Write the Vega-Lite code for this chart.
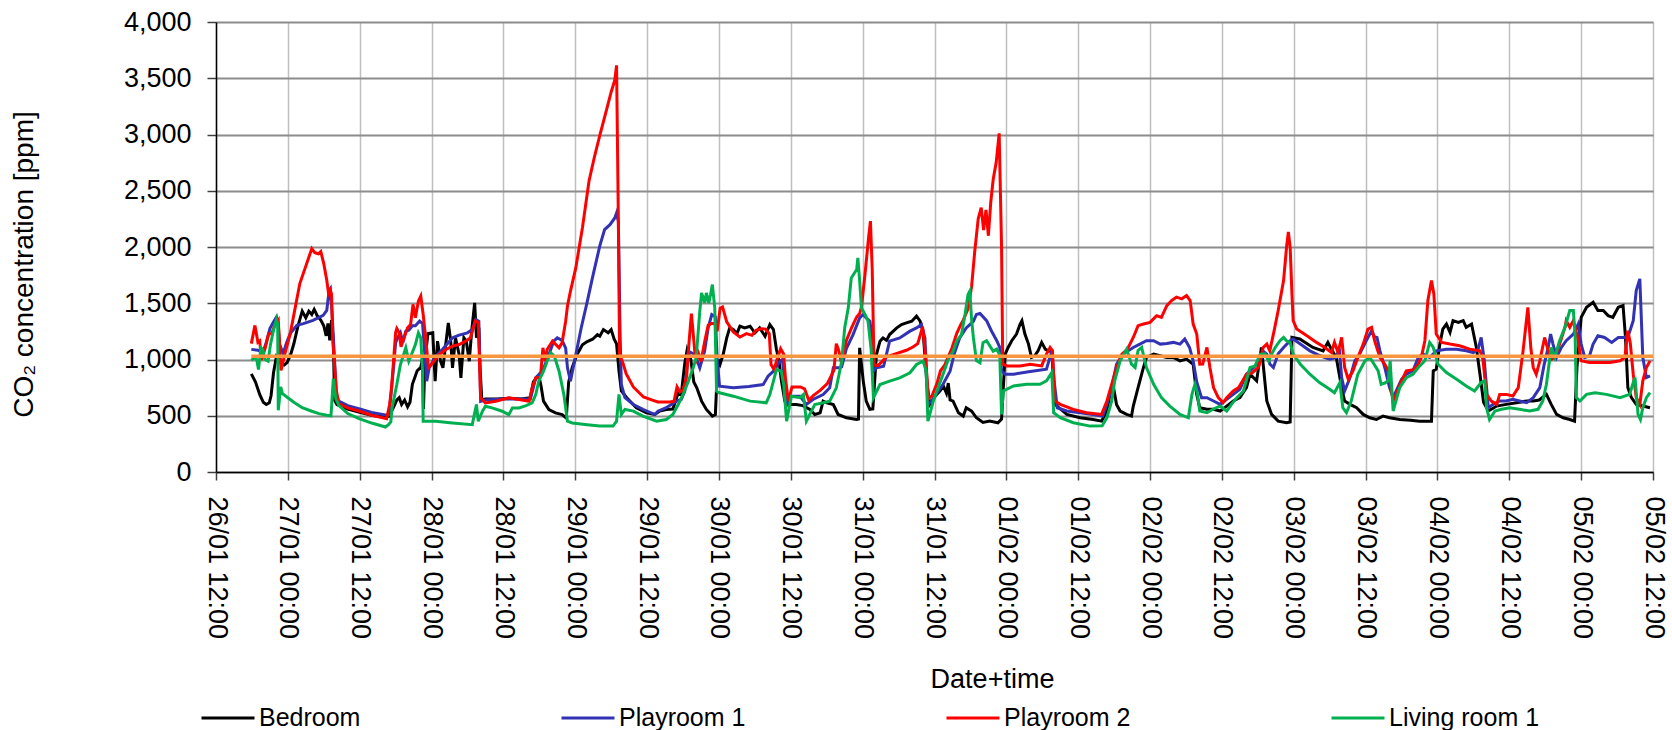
{
"$schema":"https://vega.github.io/schema/vega-lite/v6.json",
"width":1437,"height":450,
"autosize":{"type":"none"},
"padding":{"left":216,"top":22,"right":19,"bottom":258},
"background":"white",
"config":{"font":"Liberation Sans","view":{"stroke":null},"axis":{"labelColor":"#000","titleColor":"#000","titleFontWeight":"normal"}},
"datasets":{"limit":[{"h":5.9,"v":1030},{"h":240,"v":1030}],
"co2":[
{"s":"Bedroom","h":5.9,"v":872},{"s":"Bedroom","h":6.6,"v":800},{"s":"Bedroom","h":7.3,"v":690},{"s":"Bedroom","h":7.9,"v":620},{"s":"Bedroom","h":8.4,"v":600},{"s":"Bedroom","h":8.9,"v":615},{"s":"Bedroom","h":9.2,"v":680},{"s":"Bedroom","h":9.6,"v":880},{"s":"Bedroom","h":10.1,"v":1030},{"s":"Bedroom","h":10.5,"v":1010},{"s":"Bedroom","h":10.9,"v":960},{"s":"Bedroom","h":11.4,"v":950},{"s":"Bedroom","h":11.9,"v":975},{"s":"Bedroom","h":12.5,"v":1050},{"s":"Bedroom","h":13.0,"v":1140},{"s":"Bedroom","h":13.7,"v":1300},{"s":"Bedroom","h":14.4,"v":1430},{"s":"Bedroom","h":15.0,"v":1370},{"s":"Bedroom","h":15.5,"v":1430},{"s":"Bedroom","h":16.0,"v":1400},{"s":"Bedroom","h":16.4,"v":1445},{"s":"Bedroom","h":16.9,"v":1390},{"s":"Bedroom","h":17.5,"v":1350},{"s":"Bedroom","h":18.0,"v":1300},{"s":"Bedroom","h":18.4,"v":1210},{"s":"Bedroom","h":18.7,"v":1320},{"s":"Bedroom","h":19.0,"v":1170},{"s":"Bedroom","h":19.3,"v":1350},{"s":"Bedroom","h":19.6,"v":1160},{"s":"Bedroom","h":19.8,"v":640},{"s":"Bedroom","h":20.2,"v":600},{"s":"Bedroom","h":22,"v":560},{"s":"Bedroom","h":24,"v":530},{"s":"Bedroom","h":26,"v":505},{"s":"Bedroom","h":28,"v":490},{"s":"Bedroom","h":28.9,"v":495},{"s":"Bedroom","h":29.5,"v":560},{"s":"Bedroom","h":30.2,"v":640},{"s":"Bedroom","h":30.6,"v":660},{"s":"Bedroom","h":31.0,"v":600},{"s":"Bedroom","h":31.5,"v":640},{"s":"Bedroom","h":32.0,"v":580},{"s":"Bedroom","h":32.4,"v":620},{"s":"Bedroom","h":32.8,"v":780},{"s":"Bedroom","h":33.6,"v":900},{"s":"Bedroom","h":34.2,"v":930},{"s":"Bedroom","h":34.5,"v":1010},{"s":"Bedroom","h":34.65,"v":560},{"s":"Bedroom","h":34.9,"v":1000},{"s":"Bedroom","h":35.4,"v":1230},{"s":"Bedroom","h":36.2,"v":1237},{"s":"Bedroom","h":36.6,"v":807},{"s":"Bedroom","h":37.0,"v":1163},{"s":"Bedroom","h":37.5,"v":985},{"s":"Bedroom","h":37.9,"v":926},{"s":"Bedroom","h":38.3,"v":1104},{"s":"Bedroom","h":38.8,"v":1326},{"s":"Bedroom","h":39.2,"v":1163},{"s":"Bedroom","h":39.5,"v":926},{"s":"Bedroom","h":40.0,"v":1193},{"s":"Bedroom","h":40.6,"v":1045},{"s":"Bedroom","h":40.9,"v":837},{"s":"Bedroom","h":41.4,"v":1193},{"s":"Bedroom","h":41.8,"v":1163},{"s":"Bedroom","h":42.3,"v":985},{"s":"Bedroom","h":42.7,"v":1252},{"s":"Bedroom","h":43.2,"v":1504},{"s":"Bedroom","h":43.5,"v":1193},{"s":"Bedroom","h":43.9,"v":1282},{"s":"Bedroom","h":44.1,"v":926},{"s":"Bedroom","h":44.4,"v":640},{"s":"Bedroom","h":45,"v":650},{"s":"Bedroom","h":47,"v":650},{"s":"Bedroom","h":49,"v":655},{"s":"Bedroom","h":51,"v":650},{"s":"Bedroom","h":52.5,"v":660},{"s":"Bedroom","h":53.0,"v":800},{"s":"Bedroom","h":53.9,"v":860},{"s":"Bedroom","h":54.3,"v":760},{"s":"Bedroom","h":54.7,"v":630},{"s":"Bedroom","h":55.6,"v":555},{"s":"Bedroom","h":56.7,"v":525},{"s":"Bedroom","h":57.8,"v":510},{"s":"Bedroom","h":58.5,"v":480},{"s":"Bedroom","h":58.9,"v":800},{"s":"Bedroom","h":59.5,"v":930},{"s":"Bedroom","h":60.3,"v":1045},{"s":"Bedroom","h":61.2,"v":1130},{"s":"Bedroom","h":62.0,"v":1160},{"s":"Bedroom","h":62.9,"v":1180},{"s":"Bedroom","h":63.7,"v":1220},{"s":"Bedroom","h":64.1,"v":1207},{"s":"Bedroom","h":64.7,"v":1266},{"s":"Bedroom","h":65.5,"v":1237},{"s":"Bedroom","h":66.0,"v":1266},{"s":"Bedroom","h":66.5,"v":1180},{"s":"Bedroom","h":66.9,"v":1140},{"s":"Bedroom","h":67.3,"v":900},{"s":"Bedroom","h":67.7,"v":720},{"s":"Bedroom","h":68.6,"v":660},{"s":"Bedroom","h":70.2,"v":570},{"s":"Bedroom","h":71.9,"v":526},{"s":"Bedroom","h":73.3,"v":511},{"s":"Bedroom","h":74.1,"v":541},{"s":"Bedroom","h":75.2,"v":556},{"s":"Bedroom","h":76.3,"v":560},{"s":"Bedroom","h":77.2,"v":704},{"s":"Bedroom","h":77.7,"v":690},{"s":"Bedroom","h":78.3,"v":970},{"s":"Bedroom","h":78.7,"v":1089},{"s":"Bedroom","h":79.3,"v":1000},{"s":"Bedroom","h":79.8,"v":800},{"s":"Bedroom","h":80.3,"v":748},{"s":"Bedroom","h":81.1,"v":630},{"s":"Bedroom","h":81.9,"v":556},{"s":"Bedroom","h":82.9,"v":497},{"s":"Bedroom","h":83.4,"v":510},{"s":"Bedroom","h":83.6,"v":748},{"s":"Bedroom","h":83.9,"v":1000},{"s":"Bedroom","h":84.2,"v":960},{"s":"Bedroom","h":84.7,"v":1044},{"s":"Bedroom","h":85.3,"v":1192},{"s":"Bedroom","h":85.8,"v":1281},{"s":"Bedroom","h":86.4,"v":1266},{"s":"Bedroom","h":87.0,"v":1230},{"s":"Bedroom","h":87.5,"v":1296},{"s":"Bedroom","h":88.3,"v":1281},{"s":"Bedroom","h":89.2,"v":1296},{"s":"Bedroom","h":90.0,"v":1237},{"s":"Bedroom","h":90.8,"v":1281},{"s":"Bedroom","h":91.7,"v":1207},{"s":"Bedroom","h":92.5,"v":1311},{"s":"Bedroom","h":93.1,"v":1266},{"s":"Bedroom","h":93.6,"v":1089},{"s":"Bedroom","h":94.0,"v":1000},{"s":"Bedroom","h":94.4,"v":822},{"s":"Bedroom","h":95.0,"v":630},{"s":"Bedroom","h":95.8,"v":600},{"s":"Bedroom","h":96.9,"v":600},{"s":"Bedroom","h":98.0,"v":590},{"s":"Bedroom","h":99.2,"v":556},{"s":"Bedroom","h":100.0,"v":511},{"s":"Bedroom","h":100.9,"v":526},{"s":"Bedroom","h":101.4,"v":630},{"s":"Bedroom","h":102.0,"v":615},{"s":"Bedroom","h":103.1,"v":600},{"s":"Bedroom","h":103.9,"v":511},{"s":"Bedroom","h":105.3,"v":482},{"s":"Bedroom","h":107.0,"v":467},{"s":"Bedroom","h":107.3,"v":470},{"s":"Bedroom","h":107.5,"v":1104},{"s":"Bedroom","h":108.1,"v":808},{"s":"Bedroom","h":108.6,"v":630},{"s":"Bedroom","h":109.2,"v":556},{"s":"Bedroom","h":109.7,"v":560},{"s":"Bedroom","h":110.3,"v":1044},{"s":"Bedroom","h":110.9,"v":1163},{"s":"Bedroom","h":111.4,"v":1192},{"s":"Bedroom","h":112.0,"v":1170},{"s":"Bedroom","h":112.5,"v":1222},{"s":"Bedroom","h":113.7,"v":1281},{"s":"Bedroom","h":114.5,"v":1311},{"s":"Bedroom","h":115.3,"v":1326},{"s":"Bedroom","h":116.2,"v":1340},{"s":"Bedroom","h":117.0,"v":1385},{"s":"Bedroom","h":117.6,"v":1340},{"s":"Bedroom","h":118.1,"v":1250},{"s":"Bedroom","h":118.7,"v":808},{"s":"Bedroom","h":119.2,"v":600},{"s":"Bedroom","h":120.1,"v":674},{"s":"Bedroom","h":120.9,"v":719},{"s":"Bedroom","h":121.5,"v":763},{"s":"Bedroom","h":122.0,"v":700},{"s":"Bedroom","h":122.3,"v":790},{"s":"Bedroom","h":122.6,"v":640},{"s":"Bedroom","h":123.1,"v":630},{"s":"Bedroom","h":124.0,"v":526},{"s":"Bedroom","h":124.8,"v":497},{"s":"Bedroom","h":125.3,"v":571},{"s":"Bedroom","h":126.2,"v":541},{"s":"Bedroom","h":127.0,"v":482},{"s":"Bedroom","h":128.1,"v":440},{"s":"Bedroom","h":129.2,"v":452},{"s":"Bedroom","h":130.6,"v":437},{"s":"Bedroom","h":131.2,"v":470},{"s":"Bedroom","h":131.8,"v":1048},{"s":"Bedroom","h":132.3,"v":1107},{"s":"Bedroom","h":132.9,"v":1167},{"s":"Bedroom","h":133.7,"v":1226},{"s":"Bedroom","h":134.3,"v":1315},{"s":"Bedroom","h":134.6,"v":1345},{"s":"Bedroom","h":135.1,"v":1226},{"s":"Bedroom","h":135.7,"v":1137},{"s":"Bedroom","h":136.2,"v":1018},{"s":"Bedroom","h":136.7,"v":1030},{"s":"Bedroom","h":137.3,"v":1077},{"s":"Bedroom","h":137.9,"v":1152},{"s":"Bedroom","h":138.5,"v":1092},{"s":"Bedroom","h":139.0,"v":1077},{"s":"Bedroom","h":139.6,"v":1070},{"s":"Bedroom","h":140.1,"v":601},{"s":"Bedroom","h":142.1,"v":512},{"s":"Bedroom","h":144.3,"v":482},{"s":"Bedroom","h":146.5,"v":467},{"s":"Bedroom","h":147.9,"v":452},{"s":"Bedroom","h":148.8,"v":542},{"s":"Bedroom","h":149.3,"v":690},{"s":"Bedroom","h":149.9,"v":750},{"s":"Bedroom","h":150.4,"v":601},{"s":"Bedroom","h":151.0,"v":542},{"s":"Bedroom","h":152.1,"v":512},{"s":"Bedroom","h":152.9,"v":497},{"s":"Bedroom","h":153.2,"v":586},{"s":"Bedroom","h":154.0,"v":750},{"s":"Bedroom","h":154.9,"v":929},{"s":"Bedroom","h":155.4,"v":1018},{"s":"Bedroom","h":156.6,"v":1048},{"s":"Bedroom","h":157.7,"v":1033},{"s":"Bedroom","h":158.8,"v":1018},{"s":"Bedroom","h":159.9,"v":1018},{"s":"Bedroom","h":161.0,"v":988},{"s":"Bedroom","h":162.1,"v":1003},{"s":"Bedroom","h":163.2,"v":958},{"s":"Bedroom","h":163.8,"v":690},{"s":"Bedroom","h":164.3,"v":571},{"s":"Bedroom","h":165.5,"v":557},{"s":"Bedroom","h":166.6,"v":557},{"s":"Bedroom","h":167.7,"v":542},{"s":"Bedroom","h":168.8,"v":586},{"s":"Bedroom","h":169.9,"v":631},{"s":"Bedroom","h":171.0,"v":661},{"s":"Bedroom","h":172.1,"v":750},{"s":"Bedroom","h":172.7,"v":869},{"s":"Bedroom","h":173.8,"v":810},{"s":"Bedroom","h":174.6,"v":1107},{"s":"Bedroom","h":175.0,"v":900},{"s":"Bedroom","h":175.5,"v":631},{"s":"Bedroom","h":176.3,"v":512},{"s":"Bedroom","h":177.4,"v":452},{"s":"Bedroom","h":178.8,"v":438},{"s":"Bedroom","h":179.4,"v":445},{"s":"Bedroom","h":179.7,"v":1196},{"s":"Bedroom","h":181.0,"v":1182},{"s":"Bedroom","h":183.2,"v":1107},{"s":"Bedroom","h":184.9,"v":1077},{"s":"Bedroom","h":185.7,"v":1152},{"s":"Bedroom","h":186.3,"v":1090},{"s":"Bedroom","h":187.1,"v":1018},{"s":"Bedroom","h":188.0,"v":750},{"s":"Bedroom","h":188.5,"v":631},{"s":"Bedroom","h":189.4,"v":601},{"s":"Bedroom","h":190.5,"v":571},{"s":"Bedroom","h":191.6,"v":512},{"s":"Bedroom","h":192.7,"v":482},{"s":"Bedroom","h":193.8,"v":467},{"s":"Bedroom","h":194.9,"v":497},{"s":"Bedroom","h":196.0,"v":482},{"s":"Bedroom","h":197.7,"v":467},{"s":"Bedroom","h":199.5,"v":460},{"s":"Bedroom","h":201.0,"v":452},{"s":"Bedroom","h":203.0,"v":452},{"s":"Bedroom","h":203.3,"v":899},{"s":"Bedroom","h":203.8,"v":914},{"s":"Bedroom","h":204.4,"v":1137},{"s":"Bedroom","h":204.9,"v":1271},{"s":"Bedroom","h":205.5,"v":1315},{"s":"Bedroom","h":206.1,"v":1241},{"s":"Bedroom","h":206.6,"v":1345},{"s":"Bedroom","h":207.5,"v":1330},{"s":"Bedroom","h":208.3,"v":1345},{"s":"Bedroom","h":208.8,"v":1286},{"s":"Bedroom","h":209.7,"v":1315},{"s":"Bedroom","h":210.5,"v":1107},{"s":"Bedroom","h":211.1,"v":869},{"s":"Bedroom","h":211.7,"v":620},{"s":"Bedroom","h":212.5,"v":542},{"s":"Bedroom","h":213.9,"v":586},{"s":"Bedroom","h":215.5,"v":601},{"s":"Bedroom","h":217.2,"v":616},{"s":"Bedroom","h":218.9,"v":631},{"s":"Bedroom","h":220.0,"v":631},{"s":"Bedroom","h":221.0,"v":640},{"s":"Bedroom","h":222.2,"v":690},{"s":"Bedroom","h":223.0,"v":601},{"s":"Bedroom","h":223.9,"v":512},{"s":"Bedroom","h":225.0,"v":482},{"s":"Bedroom","h":226.1,"v":467},{"s":"Bedroom","h":226.9,"v":452},{"s":"Bedroom","h":227.3,"v":929},{"s":"Bedroom","h":228.0,"v":1375},{"s":"Bedroom","h":228.9,"v":1464},{"s":"Bedroom","h":230.0,"v":1509},{"s":"Bedroom","h":230.8,"v":1435},{"s":"Bedroom","h":231.7,"v":1435},{"s":"Bedroom","h":232.5,"v":1390},{"s":"Bedroom","h":233.3,"v":1375},{"s":"Bedroom","h":234.2,"v":1464},{"s":"Bedroom","h":235.0,"v":1479},{"s":"Bedroom","h":235.4,"v":1200},{"s":"Bedroom","h":235.8,"v":750},{"s":"Bedroom","h":236.4,"v":661},{"s":"Bedroom","h":237.2,"v":601},{"s":"Bedroom","h":238.3,"v":586},{"s":"Bedroom","h":239.5,"v":571},
{"s":"Playroom 1","h":5.9,"v":1090},{"s":"Playroom 1","h":7.0,"v":1082},{"s":"Playroom 1","h":7.8,"v":1060},{"s":"Playroom 1","h":8.4,"v":1150},{"s":"Playroom 1","h":9.0,"v":1275},{"s":"Playroom 1","h":9.6,"v":1334},{"s":"Playroom 1","h":10.1,"v":1378},{"s":"Playroom 1","h":10.4,"v":1300},{"s":"Playroom 1","h":10.6,"v":1141},{"s":"Playroom 1","h":11.2,"v":1052},{"s":"Playroom 1","h":11.8,"v":1150},{"s":"Playroom 1","h":12.4,"v":1230},{"s":"Playroom 1","h":13.5,"v":1304},{"s":"Playroom 1","h":14.6,"v":1319},{"s":"Playroom 1","h":16.2,"v":1348},{"s":"Playroom 1","h":17.9,"v":1393},{"s":"Playroom 1","h":18.5,"v":1437},{"s":"Playroom 1","h":18.9,"v":1615},{"s":"Playroom 1","h":19.1,"v":1630},{"s":"Playroom 1","h":19.4,"v":1400},{"s":"Playroom 1","h":19.7,"v":1100},{"s":"Playroom 1","h":20.1,"v":683},{"s":"Playroom 1","h":20.5,"v":630},{"s":"Playroom 1","h":22,"v":590},{"s":"Playroom 1","h":24,"v":560},{"s":"Playroom 1","h":26,"v":530},{"s":"Playroom 1","h":28.5,"v":505},{"s":"Playroom 1","h":28.9,"v":510},{"s":"Playroom 1","h":29.6,"v":900},{"s":"Playroom 1","h":30.0,"v":1150},{"s":"Playroom 1","h":30.4,"v":1200},{"s":"Playroom 1","h":30.8,"v":1237},{"s":"Playroom 1","h":31.2,"v":1150},{"s":"Playroom 1","h":31.7,"v":1252},{"s":"Playroom 1","h":32.2,"v":1260},{"s":"Playroom 1","h":32.8,"v":1300},{"s":"Playroom 1","h":33.3,"v":1300},{"s":"Playroom 1","h":34.0,"v":1341},{"s":"Playroom 1","h":34.5,"v":1320},{"s":"Playroom 1","h":34.8,"v":1100},{"s":"Playroom 1","h":35.2,"v":807},{"s":"Playroom 1","h":35.6,"v":926},{"s":"Playroom 1","h":36.7,"v":1030},{"s":"Playroom 1","h":37.8,"v":1089},{"s":"Playroom 1","h":39.5,"v":1193},{"s":"Playroom 1","h":40.6,"v":1217},{"s":"Playroom 1","h":42.0,"v":1237},{"s":"Playroom 1","h":42.8,"v":1267},{"s":"Playroom 1","h":43.4,"v":1356},{"s":"Playroom 1","h":43.9,"v":1340},{"s":"Playroom 1","h":44.2,"v":629},{"s":"Playroom 1","h":45,"v":640},{"s":"Playroom 1","h":48,"v":650},{"s":"Playroom 1","h":50,"v":650},{"s":"Playroom 1","h":52.5,"v":650},{"s":"Playroom 1","h":53.0,"v":750},{"s":"Playroom 1","h":53.4,"v":837},{"s":"Playroom 1","h":54.0,"v":870},{"s":"Playroom 1","h":54.5,"v":896},{"s":"Playroom 1","h":55.3,"v":1000},{"s":"Playroom 1","h":56.4,"v":1163},{"s":"Playroom 1","h":57.0,"v":1193},{"s":"Playroom 1","h":57.8,"v":1170},{"s":"Playroom 1","h":58.4,"v":1100},{"s":"Playroom 1","h":58.7,"v":926},{"s":"Playroom 1","h":59.2,"v":807},{"s":"Playroom 1","h":60.1,"v":1045},{"s":"Playroom 1","h":61.0,"v":1282},{"s":"Playroom 1","h":61.9,"v":1490},{"s":"Playroom 1","h":63.0,"v":1757},{"s":"Playroom 1","h":64.1,"v":2010},{"s":"Playroom 1","h":64.9,"v":2154},{"s":"Playroom 1","h":65.8,"v":2198},{"s":"Playroom 1","h":66.6,"v":2258},{"s":"Playroom 1","h":66.9,"v":2302},{"s":"Playroom 1","h":67.2,"v":2228},{"s":"Playroom 1","h":67.5,"v":1200},{"s":"Playroom 1","h":67.7,"v":778},{"s":"Playroom 1","h":68.3,"v":660},{"s":"Playroom 1","h":69.7,"v":600},{"s":"Playroom 1","h":71.3,"v":556},{"s":"Playroom 1","h":73.3,"v":511},{"s":"Playroom 1","h":73.8,"v":541},{"s":"Playroom 1","h":75.2,"v":571},{"s":"Playroom 1","h":76.9,"v":630},{"s":"Playroom 1","h":77.7,"v":645},{"s":"Playroom 1","h":78.3,"v":719},{"s":"Playroom 1","h":78.9,"v":1074},{"s":"Playroom 1","h":79.4,"v":1060},{"s":"Playroom 1","h":80.0,"v":1044},{"s":"Playroom 1","h":80.8,"v":926},{"s":"Playroom 1","h":81.6,"v":1074},{"s":"Playroom 1","h":82.2,"v":1281},{"s":"Playroom 1","h":82.8,"v":1400},{"s":"Playroom 1","h":83.4,"v":1380},{"s":"Playroom 1","h":83.7,"v":1000},{"s":"Playroom 1","h":84.1,"v":763},{"s":"Playroom 1","h":86.4,"v":748},{"s":"Playroom 1","h":89.0,"v":760},{"s":"Playroom 1","h":91.4,"v":778},{"s":"Playroom 1","h":92.2,"v":852},{"s":"Playroom 1","h":93.1,"v":896},{"s":"Playroom 1","h":94.2,"v":985},{"s":"Playroom 1","h":94.6,"v":1000},{"s":"Playroom 1","h":95.0,"v":778},{"s":"Playroom 1","h":95.4,"v":600},{"s":"Playroom 1","h":96.1,"v":674},{"s":"Playroom 1","h":97.5,"v":674},{"s":"Playroom 1","h":98.6,"v":600},{"s":"Playroom 1","h":99.7,"v":645},{"s":"Playroom 1","h":101.4,"v":689},{"s":"Playroom 1","h":102.5,"v":748},{"s":"Playroom 1","h":103.1,"v":926},{"s":"Playroom 1","h":103.9,"v":926},{"s":"Playroom 1","h":104.5,"v":935},{"s":"Playroom 1","h":105.3,"v":1100},{"s":"Playroom 1","h":106.4,"v":1222},{"s":"Playroom 1","h":107.5,"v":1370},{"s":"Playroom 1","h":108.1,"v":1400},{"s":"Playroom 1","h":108.6,"v":1370},{"s":"Playroom 1","h":109.2,"v":1340},{"s":"Playroom 1","h":109.6,"v":1200},{"s":"Playroom 1","h":109.8,"v":896},{"s":"Playroom 1","h":110.3,"v":926},{"s":"Playroom 1","h":111.5,"v":940},{"s":"Playroom 1","h":112.5,"v":1163},{"s":"Playroom 1","h":114.2,"v":1192},{"s":"Playroom 1","h":115.9,"v":1252},{"s":"Playroom 1","h":117.0,"v":1281},{"s":"Playroom 1","h":117.8,"v":1311},{"s":"Playroom 1","h":118.4,"v":1192},{"s":"Playroom 1","h":118.9,"v":600},{"s":"Playroom 1","h":119.5,"v":630},{"s":"Playroom 1","h":121.4,"v":778},{"s":"Playroom 1","h":122.6,"v":896},{"s":"Playroom 1","h":123.3,"v":1050},{"s":"Playroom 1","h":124.2,"v":1192},{"s":"Playroom 1","h":125.3,"v":1281},{"s":"Playroom 1","h":126.5,"v":1340},{"s":"Playroom 1","h":127.0,"v":1400},{"s":"Playroom 1","h":127.6,"v":1410},{"s":"Playroom 1","h":128.7,"v":1345},{"s":"Playroom 1","h":129.5,"v":1256},{"s":"Playroom 1","h":130.4,"v":1167},{"s":"Playroom 1","h":130.9,"v":1107},{"s":"Playroom 1","h":131.2,"v":899},{"s":"Playroom 1","h":131.8,"v":869},{"s":"Playroom 1","h":133.2,"v":869},{"s":"Playroom 1","h":136.0,"v":893},{"s":"Playroom 1","h":138.7,"v":914},{"s":"Playroom 1","h":139.6,"v":1077},{"s":"Playroom 1","h":140.0,"v":800},{"s":"Playroom 1","h":140.5,"v":571},{"s":"Playroom 1","h":142.1,"v":542},{"s":"Playroom 1","h":144.3,"v":527},{"s":"Playroom 1","h":146.5,"v":512},{"s":"Playroom 1","h":148.1,"v":497},{"s":"Playroom 1","h":148.8,"v":601},{"s":"Playroom 1","h":149.6,"v":750},{"s":"Playroom 1","h":150.4,"v":958},{"s":"Playroom 1","h":151.5,"v":1048},{"s":"Playroom 1","h":153.2,"v":1107},{"s":"Playroom 1","h":154.3,"v":1137},{"s":"Playroom 1","h":155.4,"v":1167},{"s":"Playroom 1","h":156.6,"v":1167},{"s":"Playroom 1","h":157.7,"v":1137},{"s":"Playroom 1","h":158.8,"v":1143},{"s":"Playroom 1","h":159.9,"v":1152},{"s":"Playroom 1","h":161.0,"v":1137},{"s":"Playroom 1","h":161.8,"v":1182},{"s":"Playroom 1","h":162.6,"v":1107},{"s":"Playroom 1","h":163.2,"v":988},{"s":"Playroom 1","h":163.8,"v":800},{"s":"Playroom 1","h":164.6,"v":661},{"s":"Playroom 1","h":165.5,"v":661},{"s":"Playroom 1","h":166.6,"v":631},{"s":"Playroom 1","h":167.7,"v":601},{"s":"Playroom 1","h":168.8,"v":646},{"s":"Playroom 1","h":169.9,"v":690},{"s":"Playroom 1","h":171.0,"v":735},{"s":"Playroom 1","h":172.1,"v":869},{"s":"Playroom 1","h":173.3,"v":929},{"s":"Playroom 1","h":174.4,"v":988},{"s":"Playroom 1","h":175.0,"v":1070},{"s":"Playroom 1","h":175.5,"v":1048},{"s":"Playroom 1","h":176.0,"v":960},{"s":"Playroom 1","h":176.6,"v":929},{"s":"Playroom 1","h":177.4,"v":1050},{"s":"Playroom 1","h":178.3,"v":1107},{"s":"Playroom 1","h":179.4,"v":1167},{"s":"Playroom 1","h":179.9,"v":1182},{"s":"Playroom 1","h":181.1,"v":1137},{"s":"Playroom 1","h":182.7,"v":1077},{"s":"Playroom 1","h":184.4,"v":1033},{"s":"Playroom 1","h":186.0,"v":1003},{"s":"Playroom 1","h":187.1,"v":1018},{"s":"Playroom 1","h":187.6,"v":1100},{"s":"Playroom 1","h":188.0,"v":839},{"s":"Playroom 1","h":188.5,"v":720},{"s":"Playroom 1","h":189.4,"v":839},{"s":"Playroom 1","h":190.2,"v":988},{"s":"Playroom 1","h":191.0,"v":1048},{"s":"Playroom 1","h":192.1,"v":1167},{"s":"Playroom 1","h":193.0,"v":1256},{"s":"Playroom 1","h":193.5,"v":1200},{"s":"Playroom 1","h":193.9,"v":1196},{"s":"Playroom 1","h":194.4,"v":1077},{"s":"Playroom 1","h":195.2,"v":929},{"s":"Playroom 1","h":196.0,"v":750},{"s":"Playroom 1","h":196.6,"v":661},{"s":"Playroom 1","h":197.1,"v":720},{"s":"Playroom 1","h":198.0,"v":824},{"s":"Playroom 1","h":198.8,"v":869},{"s":"Playroom 1","h":199.9,"v":899},{"s":"Playroom 1","h":200.8,"v":1018},{"s":"Playroom 1","h":201.6,"v":1048},{"s":"Playroom 1","h":202.7,"v":1018},{"s":"Playroom 1","h":203.8,"v":1077},{"s":"Playroom 1","h":205.5,"v":1092},{"s":"Playroom 1","h":207.2,"v":1092},{"s":"Playroom 1","h":208.8,"v":1077},{"s":"Playroom 1","h":210.0,"v":1062},{"s":"Playroom 1","h":210.8,"v":1092},{"s":"Playroom 1","h":211.3,"v":1196},{"s":"Playroom 1","h":211.8,"v":1000},{"s":"Playroom 1","h":212.5,"v":571},{"s":"Playroom 1","h":213.3,"v":601},{"s":"Playroom 1","h":214.4,"v":631},{"s":"Playroom 1","h":215.5,"v":631},{"s":"Playroom 1","h":216.6,"v":646},{"s":"Playroom 1","h":217.7,"v":631},{"s":"Playroom 1","h":218.9,"v":616},{"s":"Playroom 1","h":220.0,"v":661},{"s":"Playroom 1","h":221.1,"v":750},{"s":"Playroom 1","h":221.8,"v":950},{"s":"Playroom 1","h":222.5,"v":1107},{"s":"Playroom 1","h":222.9,"v":1226},{"s":"Playroom 1","h":223.3,"v":1137},{"s":"Playroom 1","h":223.9,"v":1018},{"s":"Playroom 1","h":224.7,"v":1107},{"s":"Playroom 1","h":225.5,"v":1167},{"s":"Playroom 1","h":226.7,"v":1226},{"s":"Playroom 1","h":227.5,"v":1315},{"s":"Playroom 1","h":228.0,"v":1137},{"s":"Playroom 1","h":228.6,"v":1018},{"s":"Playroom 1","h":229.4,"v":1033},{"s":"Playroom 1","h":230.0,"v":1137},{"s":"Playroom 1","h":230.8,"v":1211},{"s":"Playroom 1","h":231.9,"v":1196},{"s":"Playroom 1","h":233.1,"v":1152},{"s":"Playroom 1","h":234.2,"v":1196},{"s":"Playroom 1","h":235.3,"v":1196},{"s":"Playroom 1","h":236.0,"v":1230},{"s":"Playroom 1","h":236.7,"v":1345},{"s":"Playroom 1","h":237.2,"v":1613},{"s":"Playroom 1","h":237.8,"v":1717},{"s":"Playroom 1","h":238.3,"v":1018},{"s":"Playroom 1","h":238.9,"v":839},{"s":"Playroom 1","h":239.5,"v":854},
{"s":"Playroom 2","h":5.9,"v":1141},{"s":"Playroom 2","h":6.5,"v":1303},{"s":"Playroom 2","h":7.0,"v":1153},{"s":"Playroom 2","h":7.3,"v":1165},{"s":"Playroom 2","h":7.6,"v":995},{"s":"Playroom 2","h":8.2,"v":1100},{"s":"Playroom 2","h":8.8,"v":1230},{"s":"Playroom 2","h":9.3,"v":1230},{"s":"Playroom 2","h":9.8,"v":1300},{"s":"Playroom 2","h":10.4,"v":1348},{"s":"Playroom 2","h":10.86,"v":904},{"s":"Playroom 2","h":11.5,"v":1050},{"s":"Playroom 2","h":12.4,"v":1230},{"s":"Playroom 2","h":14.0,"v":1675},{"s":"Playroom 2","h":15.0,"v":1830},{"s":"Playroom 2","h":16.0,"v":1986},{"s":"Playroom 2","h":16.5,"v":1950},{"s":"Playroom 2","h":17.1,"v":1940},{"s":"Playroom 2","h":17.5,"v":1960},{"s":"Playroom 2","h":18.0,"v":1852},{"s":"Playroom 2","h":18.5,"v":1704},{"s":"Playroom 2","h":18.8,"v":1586},{"s":"Playroom 2","h":19.1,"v":1615},{"s":"Playroom 2","h":19.3,"v":1580},{"s":"Playroom 2","h":19.5,"v":1171},{"s":"Playroom 2","h":20.1,"v":726},{"s":"Playroom 2","h":20.5,"v":608},{"s":"Playroom 2","h":22,"v":570},{"s":"Playroom 2","h":24,"v":540},{"s":"Playroom 2","h":26,"v":505},{"s":"Playroom 2","h":28.5,"v":474},{"s":"Playroom 2","h":29.0,"v":600},{"s":"Playroom 2","h":29.3,"v":736},{"s":"Playroom 2","h":30.0,"v":1240},{"s":"Playroom 2","h":30.2,"v":1275},{"s":"Playroom 2","h":30.6,"v":1237},{"s":"Playroom 2","h":30.9,"v":1113},{"s":"Playroom 2","h":31.4,"v":1193},{"s":"Playroom 2","h":32.0,"v":1282},{"s":"Playroom 2","h":32.5,"v":1311},{"s":"Playroom 2","h":32.9,"v":1490},{"s":"Playroom 2","h":33.3,"v":1371},{"s":"Playroom 2","h":33.8,"v":1519},{"s":"Playroom 2","h":34.2,"v":1564},{"s":"Playroom 2","h":34.6,"v":1400},{"s":"Playroom 2","h":35.0,"v":1200},{"s":"Playroom 2","h":35.5,"v":926},{"s":"Playroom 2","h":36.2,"v":970},{"s":"Playroom 2","h":37.3,"v":1045},{"s":"Playroom 2","h":38.4,"v":1089},{"s":"Playroom 2","h":39.5,"v":1119},{"s":"Playroom 2","h":40.6,"v":1133},{"s":"Playroom 2","h":41.7,"v":1163},{"s":"Playroom 2","h":42.5,"v":1193},{"s":"Playroom 2","h":43.3,"v":1341},{"s":"Playroom 2","h":43.8,"v":1330},{"s":"Playroom 2","h":44.2,"v":659},{"s":"Playroom 2","h":45.0,"v":614},{"s":"Playroom 2","h":46.7,"v":629},{"s":"Playroom 2","h":47.8,"v":644},{"s":"Playroom 2","h":48.9,"v":659},{"s":"Playroom 2","h":50.6,"v":644},{"s":"Playroom 2","h":52.3,"v":629},{"s":"Playroom 2","h":52.8,"v":748},{"s":"Playroom 2","h":53.4,"v":837},{"s":"Playroom 2","h":54.2,"v":852},{"s":"Playroom 2","h":54.6,"v":1104},{"s":"Playroom 2","h":55.0,"v":985},{"s":"Playroom 2","h":55.3,"v":1089},{"s":"Playroom 2","h":56.2,"v":1163},{"s":"Playroom 2","h":57.3,"v":1104},{"s":"Playroom 2","h":57.8,"v":1148},{"s":"Playroom 2","h":58.4,"v":1341},{"s":"Playroom 2","h":58.7,"v":1475},{"s":"Playroom 2","h":59.2,"v":1608},{"s":"Playroom 2","h":60.1,"v":1816},{"s":"Playroom 2","h":61.2,"v":2172},{"s":"Playroom 2","h":62.3,"v":2587},{"s":"Playroom 2","h":63.2,"v":2800},{"s":"Playroom 2","h":64.1,"v":2993},{"s":"Playroom 2","h":65.2,"v":3215},{"s":"Playroom 2","h":66.0,"v":3378},{"s":"Playroom 2","h":66.6,"v":3482},{"s":"Playroom 2","h":66.9,"v":3615},{"s":"Playroom 2","h":67.2,"v":2237},{"s":"Playroom 2","h":67.4,"v":1052},{"s":"Playroom 2","h":68.0,"v":963},{"s":"Playroom 2","h":68.5,"v":874},{"s":"Playroom 2","h":69.7,"v":756},{"s":"Playroom 2","h":71.4,"v":667},{"s":"Playroom 2","h":73.0,"v":637},{"s":"Playroom 2","h":73.8,"v":622},{"s":"Playroom 2","h":75.8,"v":622},{"s":"Playroom 2","h":76.5,"v":630},{"s":"Playroom 2","h":77.0,"v":756},{"s":"Playroom 2","h":77.5,"v":711},{"s":"Playroom 2","h":78.0,"v":730},{"s":"Playroom 2","h":78.6,"v":850},{"s":"Playroom 2","h":79.0,"v":1150},{"s":"Playroom 2","h":79.4,"v":1408},{"s":"Playroom 2","h":80.0,"v":1052},{"s":"Playroom 2","h":80.3,"v":1000},{"s":"Playroom 2","h":80.6,"v":1052},{"s":"Playroom 2","h":81.0,"v":980},{"s":"Playroom 2","h":81.6,"v":1156},{"s":"Playroom 2","h":82.2,"v":1304},{"s":"Playroom 2","h":82.7,"v":1319},{"s":"Playroom 2","h":83.3,"v":1319},{"s":"Playroom 2","h":83.7,"v":1250},{"s":"Playroom 2","h":84.2,"v":1456},{"s":"Playroom 2","h":84.6,"v":1467},{"s":"Playroom 2","h":85.3,"v":1334},{"s":"Playroom 2","h":86.4,"v":1245},{"s":"Playroom 2","h":87.5,"v":1200},{"s":"Playroom 2","h":88.6,"v":1230},{"s":"Playroom 2","h":89.5,"v":1215},{"s":"Playroom 2","h":90.2,"v":1260},{"s":"Playroom 2","h":91.0,"v":1274},{"s":"Playroom 2","h":91.8,"v":1270},{"s":"Playroom 2","h":92.4,"v":1230},{"s":"Playroom 2","h":92.7,"v":956},{"s":"Playroom 2","h":93.2,"v":911},{"s":"Playroom 2","h":93.7,"v":1000},{"s":"Playroom 2","h":94.3,"v":1096},{"s":"Playroom 2","h":94.8,"v":1050},{"s":"Playroom 2","h":95.1,"v":837},{"s":"Playroom 2","h":95.6,"v":630},{"s":"Playroom 2","h":96.2,"v":756},{"s":"Playroom 2","h":97.6,"v":756},{"s":"Playroom 2","h":98.3,"v":740},{"s":"Playroom 2","h":99.0,"v":637},{"s":"Playroom 2","h":99.8,"v":681},{"s":"Playroom 2","h":100.9,"v":726},{"s":"Playroom 2","h":102.1,"v":785},{"s":"Playroom 2","h":103.2,"v":904},{"s":"Playroom 2","h":103.6,"v":1141},{"s":"Playroom 2","h":104.0,"v":1080},{"s":"Playroom 2","h":104.5,"v":963},{"s":"Playroom 2","h":105.3,"v":1171},{"s":"Playroom 2","h":106.2,"v":1289},{"s":"Playroom 2","h":107.0,"v":1378},{"s":"Playroom 2","h":107.5,"v":1408},{"s":"Playroom 2","h":107.8,"v":1467},{"s":"Playroom 2","h":108.4,"v":1760},{"s":"Playroom 2","h":109.0,"v":2089},{"s":"Playroom 2","h":109.3,"v":2230},{"s":"Playroom 2","h":109.6,"v":1800},{"s":"Playroom 2","h":109.9,"v":950},{"s":"Playroom 2","h":110.6,"v":948},{"s":"Playroom 2","h":112.0,"v":1023},{"s":"Playroom 2","h":113.6,"v":1052},{"s":"Playroom 2","h":115.3,"v":1082},{"s":"Playroom 2","h":116.4,"v":1111},{"s":"Playroom 2","h":117.2,"v":1141},{"s":"Playroom 2","h":117.8,"v":1250},{"s":"Playroom 2","h":118.0,"v":1289},{"s":"Playroom 2","h":118.4,"v":1100},{"s":"Playroom 2","h":119.0,"v":650},{"s":"Playroom 2","h":119.6,"v":680},{"s":"Playroom 2","h":120.4,"v":785},{"s":"Playroom 2","h":121.0,"v":900},{"s":"Playroom 2","h":121.7,"v":950},{"s":"Playroom 2","h":122.9,"v":1100},{"s":"Playroom 2","h":123.7,"v":1230},{"s":"Playroom 2","h":124.3,"v":1300},{"s":"Playroom 2","h":124.8,"v":1350},{"s":"Playroom 2","h":125.6,"v":1450},{"s":"Playroom 2","h":126.2,"v":1650},{"s":"Playroom 2","h":126.7,"v":1950},{"s":"Playroom 2","h":127.3,"v":2250},{"s":"Playroom 2","h":127.8,"v":2350},{"s":"Playroom 2","h":128.2,"v":2150},{"s":"Playroom 2","h":128.6,"v":2330},{"s":"Playroom 2","h":129.0,"v":2100},{"s":"Playroom 2","h":129.4,"v":2400},{"s":"Playroom 2","h":129.8,"v":2600},{"s":"Playroom 2","h":130.3,"v":2750},{"s":"Playroom 2","h":130.8,"v":3010},{"s":"Playroom 2","h":131.2,"v":2000},{"s":"Playroom 2","h":131.4,"v":958},{"s":"Playroom 2","h":132.1,"v":943},{"s":"Playroom 2","h":134.3,"v":943},{"s":"Playroom 2","h":136.0,"v":958},{"s":"Playroom 2","h":137.9,"v":943},{"s":"Playroom 2","h":138.7,"v":1048},{"s":"Playroom 2","h":139.3,"v":1107},{"s":"Playroom 2","h":139.7,"v":1080},{"s":"Playroom 2","h":140.1,"v":631},{"s":"Playroom 2","h":141.0,"v":601},{"s":"Playroom 2","h":143.2,"v":557},{"s":"Playroom 2","h":145.4,"v":527},{"s":"Playroom 2","h":147.9,"v":512},{"s":"Playroom 2","h":148.8,"v":631},{"s":"Playroom 2","h":149.6,"v":780},{"s":"Playroom 2","h":150.4,"v":929},{"s":"Playroom 2","h":151.3,"v":1048},{"s":"Playroom 2","h":152.2,"v":1090},{"s":"Playroom 2","h":153.2,"v":1196},{"s":"Playroom 2","h":154.0,"v":1301},{"s":"Playroom 2","h":154.9,"v":1315},{"s":"Playroom 2","h":156.0,"v":1330},{"s":"Playroom 2","h":157.1,"v":1390},{"s":"Playroom 2","h":157.9,"v":1375},{"s":"Playroom 2","h":158.8,"v":1479},{"s":"Playroom 2","h":159.6,"v":1524},{"s":"Playroom 2","h":160.4,"v":1554},{"s":"Playroom 2","h":161.3,"v":1539},{"s":"Playroom 2","h":162.1,"v":1568},{"s":"Playroom 2","h":162.7,"v":1524},{"s":"Playroom 2","h":163.2,"v":1315},{"s":"Playroom 2","h":163.8,"v":1226},{"s":"Playroom 2","h":164.3,"v":958},{"s":"Playroom 2","h":164.8,"v":960},{"s":"Playroom 2","h":165.5,"v":1107},{"s":"Playroom 2","h":166.0,"v":929},{"s":"Playroom 2","h":166.6,"v":750},{"s":"Playroom 2","h":167.4,"v":661},{"s":"Playroom 2","h":168.2,"v":616},{"s":"Playroom 2","h":168.8,"v":661},{"s":"Playroom 2","h":169.9,"v":720},{"s":"Playroom 2","h":170.8,"v":750},{"s":"Playroom 2","h":172.1,"v":869},{"s":"Playroom 2","h":173.0,"v":880},{"s":"Playroom 2","h":174.1,"v":929},{"s":"Playroom 2","h":174.9,"v":1107},{"s":"Playroom 2","h":175.5,"v":1137},{"s":"Playroom 2","h":176.0,"v":1077},{"s":"Playroom 2","h":176.7,"v":1250},{"s":"Playroom 2","h":177.4,"v":1435},{"s":"Playroom 2","h":178.3,"v":1702},{"s":"Playroom 2","h":178.8,"v":2000},{"s":"Playroom 2","h":179.1,"v":2134},{"s":"Playroom 2","h":179.4,"v":2000},{"s":"Playroom 2","h":179.7,"v":1583},{"s":"Playroom 2","h":179.9,"v":1345},{"s":"Playroom 2","h":180.5,"v":1271},{"s":"Playroom 2","h":182.2,"v":1211},{"s":"Playroom 2","h":183.8,"v":1152},{"s":"Playroom 2","h":185.2,"v":1107},{"s":"Playroom 2","h":186.3,"v":1062},{"s":"Playroom 2","h":186.8,"v":1152},{"s":"Playroom 2","h":187.4,"v":1062},{"s":"Playroom 2","h":188.0,"v":1196},{"s":"Playroom 2","h":188.5,"v":929},{"s":"Playroom 2","h":189.1,"v":824},{"s":"Playroom 2","h":189.9,"v":899},{"s":"Playroom 2","h":190.7,"v":1018},{"s":"Playroom 2","h":191.6,"v":1137},{"s":"Playroom 2","h":192.4,"v":1271},{"s":"Playroom 2","h":193.0,"v":1286},{"s":"Playroom 2","h":193.5,"v":1167},{"s":"Playroom 2","h":194.4,"v":1018},{"s":"Playroom 2","h":195.2,"v":958},{"s":"Playroom 2","h":195.8,"v":899},{"s":"Playroom 2","h":196.6,"v":631},{"s":"Playroom 2","h":197.1,"v":690},{"s":"Playroom 2","h":198.0,"v":810},{"s":"Playroom 2","h":198.8,"v":899},{"s":"Playroom 2","h":200.0,"v":910},{"s":"Playroom 2","h":200.8,"v":958},{"s":"Playroom 2","h":201.3,"v":1018},{"s":"Playroom 2","h":201.9,"v":1167},{"s":"Playroom 2","h":202.4,"v":1524},{"s":"Playroom 2","h":203.0,"v":1702},{"s":"Playroom 2","h":203.4,"v":1583},{"s":"Playroom 2","h":203.8,"v":1226},{"s":"Playroom 2","h":204.7,"v":1152},{"s":"Playroom 2","h":206.1,"v":1137},{"s":"Playroom 2","h":207.7,"v":1122},{"s":"Playroom 2","h":209.4,"v":1092},{"s":"Playroom 2","h":211.1,"v":1077},{"s":"Playroom 2","h":211.6,"v":1000},{"s":"Playroom 2","h":212.2,"v":690},{"s":"Playroom 2","h":213.0,"v":631},{"s":"Playroom 2","h":213.9,"v":601},{"s":"Playroom 2","h":214.4,"v":690},{"s":"Playroom 2","h":215.5,"v":690},{"s":"Playroom 2","h":216.6,"v":676},{"s":"Playroom 2","h":217.5,"v":750},{"s":"Playroom 2","h":218.3,"v":1077},{"s":"Playroom 2","h":219.1,"v":1464},{"s":"Playroom 2","h":219.6,"v":1100},{"s":"Playroom 2","h":220.0,"v":929},{"s":"Playroom 2","h":220.5,"v":869},{"s":"Playroom 2","h":221.1,"v":988},{"s":"Playroom 2","h":221.9,"v":1196},{"s":"Playroom 2","h":222.5,"v":1077},{"s":"Playroom 2","h":223.0,"v":1000},{"s":"Playroom 2","h":223.6,"v":1018},{"s":"Playroom 2","h":224.4,"v":1137},{"s":"Playroom 2","h":225.3,"v":1286},{"s":"Playroom 2","h":225.5,"v":1345},{"s":"Playroom 2","h":226.1,"v":1286},{"s":"Playroom 2","h":226.7,"v":1345},{"s":"Playroom 2","h":227.4,"v":1200},{"s":"Playroom 2","h":228.0,"v":988},{"s":"Playroom 2","h":229.4,"v":973},{"s":"Playroom 2","h":231.1,"v":973},{"s":"Playroom 2","h":232.8,"v":973},{"s":"Playroom 2","h":234.5,"v":988},{"s":"Playroom 2","h":235.3,"v":1018},{"s":"Playroom 2","h":235.8,"v":1256},{"s":"Playroom 2","h":236.2,"v":1150},{"s":"Playroom 2","h":236.7,"v":869},{"s":"Playroom 2","h":237.2,"v":661},{"s":"Playroom 2","h":237.8,"v":600},{"s":"Playroom 2","h":238.3,"v":810},{"s":"Playroom 2","h":238.9,"v":929},{"s":"Playroom 2","h":239.5,"v":988},
{"s":"Living room 1","h":5.9,"v":993},{"s":"Living room 1","h":6.4,"v":1015},{"s":"Living room 1","h":6.8,"v":1000},{"s":"Living room 1","h":7.1,"v":911},{"s":"Living room 1","h":7.5,"v":1104},{"s":"Living room 1","h":7.8,"v":1090},{"s":"Living room 1","h":8.2,"v":1000},{"s":"Living room 1","h":8.7,"v":985},{"s":"Living room 1","h":9.1,"v":1133},{"s":"Living room 1","h":9.7,"v":1282},{"s":"Living room 1","h":10.1,"v":1356},{"s":"Living room 1","h":10.3,"v":1311},{"s":"Living room 1","h":10.4,"v":548},{"s":"Living room 1","h":10.8,"v":756},{"s":"Living room 1","h":11.1,"v":697},{"s":"Living room 1","h":12.0,"v":660},{"s":"Living room 1","h":13.0,"v":620},{"s":"Living room 1","h":14.4,"v":572},{"s":"Living room 1","h":16.0,"v":540},{"s":"Living room 1","h":17.2,"v":519},{"s":"Living room 1","h":18.5,"v":505},{"s":"Living room 1","h":19.2,"v":500},{"s":"Living room 1","h":19.6,"v":830},{"s":"Living room 1","h":20.0,"v":652},{"s":"Living room 1","h":20.5,"v":593},{"s":"Living room 1","h":22.0,"v":520},{"s":"Living room 1","h":23.9,"v":474},{"s":"Living room 1","h":26.0,"v":435},{"s":"Living room 1","h":28.3,"v":400},{"s":"Living room 1","h":28.8,"v":420},{"s":"Living room 1","h":29.2,"v":445},{"s":"Living room 1","h":29.4,"v":570},{"s":"Living room 1","h":30.2,"v":777},{"s":"Living room 1","h":30.8,"v":955},{"s":"Living room 1","h":31.7,"v":1104},{"s":"Living room 1","h":32.2,"v":985},{"s":"Living room 1","h":32.7,"v":1050},{"s":"Living room 1","h":33.3,"v":1133},{"s":"Living room 1","h":33.8,"v":1237},{"s":"Living room 1","h":34.2,"v":1193},{"s":"Living room 1","h":34.5,"v":900},{"s":"Living room 1","h":34.6,"v":451},{"s":"Living room 1","h":36.7,"v":451},{"s":"Living room 1","h":39.5,"v":436},{"s":"Living room 1","h":42.8,"v":421},{"s":"Living room 1","h":43.5,"v":600},{"s":"Living room 1","h":43.8,"v":451},{"s":"Living room 1","h":44.5,"v":540},{"s":"Living room 1","h":45.0,"v":585},{"s":"Living room 1","h":46.1,"v":570},{"s":"Living room 1","h":47.8,"v":540},{"s":"Living room 1","h":48.9,"v":510},{"s":"Living room 1","h":49.5,"v":570},{"s":"Living room 1","h":50.6,"v":570},{"s":"Living room 1","h":51.8,"v":590},{"s":"Living room 1","h":52.8,"v":614},{"s":"Living room 1","h":53.4,"v":688},{"s":"Living room 1","h":53.9,"v":807},{"s":"Living room 1","h":54.7,"v":896},{"s":"Living room 1","h":55.3,"v":985},{"s":"Living room 1","h":55.9,"v":1060},{"s":"Living room 1","h":56.5,"v":1030},{"s":"Living room 1","h":57.3,"v":896},{"s":"Living room 1","h":58.1,"v":688},{"s":"Living room 1","h":58.7,"v":451},{"s":"Living room 1","h":59.5,"v":436},{"s":"Living room 1","h":62.0,"v":420},{"s":"Living room 1","h":64.1,"v":408},{"s":"Living room 1","h":66.3,"v":408},{"s":"Living room 1","h":66.9,"v":452},{"s":"Living room 1","h":67.3,"v":689},{"s":"Living room 1","h":67.7,"v":512},{"s":"Living room 1","h":68.3,"v":556},{"s":"Living room 1","h":69.7,"v":541},{"s":"Living room 1","h":71.3,"v":497},{"s":"Living room 1","h":73.6,"v":452},{"s":"Living room 1","h":75.2,"v":467},{"s":"Living room 1","h":76.3,"v":512},{"s":"Living room 1","h":77.2,"v":600},{"s":"Living room 1","h":78.0,"v":689},{"s":"Living room 1","h":78.9,"v":808},{"s":"Living room 1","h":79.7,"v":926},{"s":"Living room 1","h":80.2,"v":1015},{"s":"Living room 1","h":80.8,"v":1429},{"s":"Living room 1","h":81.1,"v":1592},{"s":"Living room 1","h":81.6,"v":1503},{"s":"Living room 1","h":81.9,"v":1592},{"s":"Living room 1","h":82.3,"v":1500},{"s":"Living room 1","h":82.6,"v":1577},{"s":"Living room 1","h":82.9,"v":1666},{"s":"Living room 1","h":83.3,"v":1459},{"s":"Living room 1","h":83.6,"v":719},{"s":"Living room 1","h":84.1,"v":704},{"s":"Living room 1","h":86.4,"v":674},{"s":"Living room 1","h":89.2,"v":630},{"s":"Living room 1","h":91.9,"v":615},{"s":"Living room 1","h":92.5,"v":689},{"s":"Living room 1","h":93.1,"v":808},{"s":"Living room 1","h":93.6,"v":911},{"s":"Living room 1","h":94.4,"v":896},{"s":"Living room 1","h":94.8,"v":778},{"s":"Living room 1","h":95.3,"v":452},{"s":"Living room 1","h":96.1,"v":674},{"s":"Living room 1","h":97.5,"v":660},{"s":"Living room 1","h":98.1,"v":689},{"s":"Living room 1","h":98.6,"v":452},{"s":"Living room 1","h":100.0,"v":600},{"s":"Living room 1","h":101.4,"v":615},{"s":"Living room 1","h":102.5,"v":630},{"s":"Living room 1","h":103.6,"v":748},{"s":"Living room 1","h":104.5,"v":985},{"s":"Living room 1","h":105.0,"v":1281},{"s":"Living room 1","h":105.6,"v":1459},{"s":"Living room 1","h":106.1,"v":1725},{"s":"Living room 1","h":107.0,"v":1799},{"s":"Living room 1","h":107.2,"v":1903},{"s":"Living room 1","h":107.5,"v":1700},{"s":"Living room 1","h":107.8,"v":1459},{"s":"Living room 1","h":108.4,"v":1400},{"s":"Living room 1","h":108.9,"v":1340},{"s":"Living room 1","h":109.4,"v":1100},{"s":"Living room 1","h":109.8,"v":660},{"s":"Living room 1","h":110.9,"v":778},{"s":"Living room 1","h":112.5,"v":808},{"s":"Living room 1","h":114.2,"v":837},{"s":"Living room 1","h":115.9,"v":882},{"s":"Living room 1","h":117.0,"v":956},{"s":"Living room 1","h":118.1,"v":985},{"s":"Living room 1","h":118.6,"v":900},{"s":"Living room 1","h":118.9,"v":452},{"s":"Living room 1","h":119.8,"v":630},{"s":"Living room 1","h":120.6,"v":748},{"s":"Living room 1","h":121.5,"v":880},{"s":"Living room 1","h":122.3,"v":1000},{"s":"Living room 1","h":123.1,"v":1074},{"s":"Living room 1","h":123.7,"v":1163},{"s":"Living room 1","h":124.5,"v":1222},{"s":"Living room 1","h":125.1,"v":1400},{"s":"Living room 1","h":125.6,"v":1577},{"s":"Living room 1","h":125.9,"v":1607},{"s":"Living room 1","h":126.2,"v":1350},{"s":"Living room 1","h":126.5,"v":1192},{"s":"Living room 1","h":127.0,"v":990},{"s":"Living room 1","h":127.6,"v":970},{"s":"Living room 1","h":128.1,"v":1150},{"s":"Living room 1","h":128.7,"v":1167},{"s":"Living room 1","h":129.8,"v":1074},{"s":"Living room 1","h":130.4,"v":1092},{"s":"Living room 1","h":130.9,"v":1040},{"s":"Living room 1","h":131.2,"v":512},{"s":"Living room 1","h":131.5,"v":720},{"s":"Living room 1","h":133.2,"v":765},{"s":"Living room 1","h":135.4,"v":780},{"s":"Living room 1","h":137.6,"v":780},{"s":"Living room 1","h":138.7,"v":810},{"s":"Living room 1","h":139.6,"v":884},{"s":"Living room 1","h":139.9,"v":527},{"s":"Living room 1","h":141.0,"v":482},{"s":"Living room 1","h":143.2,"v":438},{"s":"Living room 1","h":146.0,"v":408},{"s":"Living room 1","h":148.0,"v":410},{"s":"Living room 1","h":148.8,"v":482},{"s":"Living room 1","h":149.6,"v":631},{"s":"Living room 1","h":150.1,"v":810},{"s":"Living room 1","h":151.0,"v":988},{"s":"Living room 1","h":152.1,"v":1092},{"s":"Living room 1","h":152.9,"v":958},{"s":"Living room 1","h":153.5,"v":929},{"s":"Living room 1","h":154.0,"v":1080},{"s":"Living room 1","h":154.6,"v":1107},{"s":"Living room 1","h":155.4,"v":929},{"s":"Living room 1","h":156.6,"v":780},{"s":"Living room 1","h":157.9,"v":661},{"s":"Living room 1","h":159.3,"v":586},{"s":"Living room 1","h":161.0,"v":512},{"s":"Living room 1","h":162.4,"v":482},{"s":"Living room 1","h":163.0,"v":690},{"s":"Living room 1","h":163.5,"v":780},{"s":"Living room 1","h":163.9,"v":700},{"s":"Living room 1","h":164.3,"v":542},{"s":"Living room 1","h":165.5,"v":527},{"s":"Living room 1","h":166.6,"v":560},{"s":"Living room 1","h":167.7,"v":586},{"s":"Living room 1","h":168.8,"v":542},{"s":"Living room 1","h":169.6,"v":601},{"s":"Living room 1","h":170.5,"v":661},{"s":"Living room 1","h":171.6,"v":720},{"s":"Living room 1","h":172.7,"v":929},{"s":"Living room 1","h":173.5,"v":940},{"s":"Living room 1","h":174.4,"v":1048},{"s":"Living room 1","h":175.2,"v":1050},{"s":"Living room 1","h":175.8,"v":988},{"s":"Living room 1","h":176.3,"v":1048},{"s":"Living room 1","h":176.9,"v":1107},{"s":"Living room 1","h":177.7,"v":1167},{"s":"Living room 1","h":178.3,"v":1196},{"s":"Living room 1","h":178.8,"v":1167},{"s":"Living room 1","h":179.4,"v":1150},{"s":"Living room 1","h":179.9,"v":1048},{"s":"Living room 1","h":181.1,"v":958},{"s":"Living room 1","h":182.7,"v":869},{"s":"Living room 1","h":184.3,"v":795},{"s":"Living room 1","h":186.0,"v":735},{"s":"Living room 1","h":186.8,"v":705},{"s":"Living room 1","h":187.7,"v":795},{"s":"Living room 1","h":188.2,"v":571},{"s":"Living room 1","h":188.8,"v":527},{"s":"Living room 1","h":189.6,"v":631},{"s":"Living room 1","h":190.7,"v":869},{"s":"Living room 1","h":191.9,"v":988},{"s":"Living room 1","h":192.7,"v":1018},{"s":"Living room 1","h":193.4,"v":960},{"s":"Living room 1","h":194.1,"v":899},{"s":"Living room 1","h":194.6,"v":780},{"s":"Living room 1","h":195.2,"v":790},{"s":"Living room 1","h":195.8,"v":810},{"s":"Living room 1","h":196.1,"v":988},{"s":"Living room 1","h":196.6,"v":542},{"s":"Living room 1","h":197.7,"v":750},{"s":"Living room 1","h":198.8,"v":839},{"s":"Living room 1","h":199.9,"v":869},{"s":"Living room 1","h":200.8,"v":929},{"s":"Living room 1","h":201.9,"v":988},{"s":"Living room 1","h":202.7,"v":1152},{"s":"Living room 1","h":203.3,"v":1107},{"s":"Living room 1","h":204.1,"v":958},{"s":"Living room 1","h":205.5,"v":884},{"s":"Living room 1","h":207.2,"v":824},{"s":"Living room 1","h":208.8,"v":765},{"s":"Living room 1","h":210.2,"v":720},{"s":"Living room 1","h":211.3,"v":795},{"s":"Living room 1","h":211.9,"v":810},{"s":"Living room 1","h":212.2,"v":571},{"s":"Living room 1","h":212.7,"v":467},{"s":"Living room 1","h":213.6,"v":542},{"s":"Living room 1","h":214.7,"v":557},{"s":"Living room 1","h":216.1,"v":571},{"s":"Living room 1","h":217.7,"v":557},{"s":"Living room 1","h":219.4,"v":542},{"s":"Living room 1","h":220.8,"v":557},{"s":"Living room 1","h":221.6,"v":631},{"s":"Living room 1","h":222.2,"v":780},{"s":"Living room 1","h":223.0,"v":1107},{"s":"Living room 1","h":223.6,"v":1018},{"s":"Living room 1","h":224.4,"v":1167},{"s":"Living room 1","h":225.3,"v":1286},{"s":"Living room 1","h":226.1,"v":1435},{"s":"Living room 1","h":226.7,"v":1435},{"s":"Living room 1","h":227.0,"v":1200},{"s":"Living room 1","h":227.2,"v":661},{"s":"Living room 1","h":227.8,"v":631},{"s":"Living room 1","h":228.9,"v":690},{"s":"Living room 1","h":230.3,"v":705},{"s":"Living room 1","h":232.2,"v":690},{"s":"Living room 1","h":234.5,"v":661},{"s":"Living room 1","h":236.1,"v":690},{"s":"Living room 1","h":236.7,"v":795},{"s":"Living room 1","h":237.0,"v":840},{"s":"Living room 1","h":237.5,"v":512},{"s":"Living room 1","h":237.9,"v":467},{"s":"Living room 1","h":238.3,"v":571},{"s":"Living room 1","h":238.9,"v":661},{"s":"Living room 1","h":239.5,"v":705}
]},
"data":{"name":"co2"},
"encoding":{
"x":{"field":"h","type":"quantitative","scale":{"domain":[0,240],"nice":false,"zero":false},
"axis":{"values":[0,12,24,36,48,60,72,84,96,108,120,132,144,156,168,180,192,204,216,228,240],
"labelExpr":"timeFormat(datetime(2015,0,26,12+datum.value),'%d/%m %H:%M')",
"labelAngle":90,"labelAlign":"left","labelBaseline":"middle","labelFontSize":27,"labelPadding":16,"labelOverlap":false,"labelFlush":false,
"tickSize":8,"tickColor":"#404040","tickWidth":1.5,"domainColor":"#000","domainWidth":1.5,
"grid":true,"gridColor":"#BFBFBF","gridWidth":1.5,
"title":"Date+time","titleFontSize":27,"titleX":776,"titleY":215,"titleAlign":"center","titleBaseline":"alphabetic"}},
"y":{"field":"v","type":"quantitative","scale":{"domain":[0,4000],"nice":false},
"axis":{"values":[0,500,1000,1500,2000,2500,3000,3500,4000],"format":",d","labelFontSize":27,"labelPadding":16,
"tickSize":9,"tickColor":"#404040","tickWidth":1.5,"domainColor":"#000","domainWidth":1.5,
"grid":true,"gridColor":"#8C8C8C","gridWidth":2,
"title":"CO₂ concentration [ppm]","titleFontSize":28,"titleAngle":-90,"titleX":-184,"titleY":242,"titleAlign":"center","titleBaseline":"alphabetic"}},
"color":{"field":"s","type":"nominal",
"scale":{"domain":["Bedroom","Playroom 1","Playroom 2","Living room 1"],"range":["#000000","#3232B4","#FF0000","#00B050"]},
"legend":{"orient":"none","legendX":-16,"legendY":668,"direction":"horizontal","columns":4,"title":null,"padding":0,
"symbolType":"stroke","symbolSize":2809,"symbolStrokeWidth":3,"labelFontSize":25,"labelOffset":3,"labelColor":"#000","labelLimit":0,"columnPadding":194}}
},
"layer":[
{"transform":[{"filter":"datum.s === 'Bedroom'"}],"mark":{"type":"line","strokeWidth":3}},
{"transform":[{"filter":"datum.s === 'Playroom 1'"}],"mark":{"type":"line","strokeWidth":3}},
{"transform":[{"filter":"datum.s === 'Playroom 2'"}],"mark":{"type":"line","strokeWidth":3}},
{"transform":[{"filter":"datum.s === 'Living room 1'"}],"mark":{"type":"line","strokeWidth":3}},
{"data":{"name":"limit"},"mark":{"type":"line","strokeWidth":3.5},"encoding":{"color":{"value":"#F7963F"}}}
]
}
